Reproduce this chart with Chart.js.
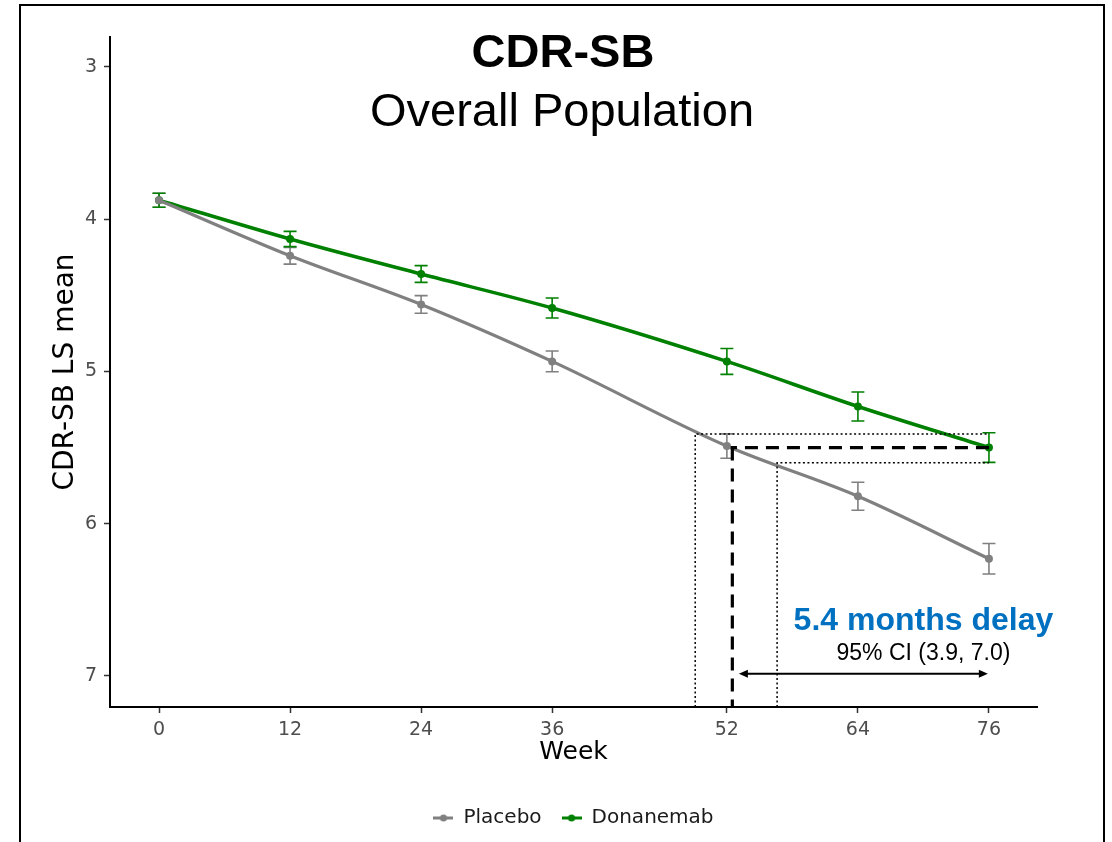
<!DOCTYPE html>
<html>
<head>
<meta charset="utf-8">
<title>CDR-SB Overall Population</title>
<script src="https://cdn.jsdelivr.net/npm/chart.js@4.4.1/dist/chart.umd.min.js"></script>
<style>
    html, body { margin: 0; padding: 0; background: #fff; }
    #wrap { position: relative; width: 1112px; height: 842px; overflow: hidden; }
    #chart { position: absolute; left: 0; top: 0; }
    /* slide frame around the figure */
    #frame { position: absolute; left: 19px; top: 4px; width: 1082px; height: 900px; border: 2px solid #000; pointer-events: none; }
</style>
</head>
<body>
<div id="wrap">
    <canvas id="chart" width="1112" height="842"></canvas>
    <div id="frame"></div>
</div>
<script>
// --- Data --- //
const weeks = [0, 12, 24, 36, 52, 64, 76];
const placeboMean = [3.875, 4.24, 4.56, 4.934, 5.49, 5.82, 6.23];
const placeboErr = [0.046, 0.055, 0.058, 0.068, 0.08, 0.092, 0.10];
const donanemabMean = [3.875, 4.13, 4.36, 4.583, 4.934, 5.23, 5.50];
const donanemabErr = [0.046, 0.05, 0.055, 0.066, 0.085, 0.095, 0.097];

const xTickValues = [0, 12, 24, 36, 52, 64, 76];
const yTickValues = [3, 4, 5, 6, 7];

// delay annotation (weeks / CDR-SB units)
const delayLevel = 5.50;          // donanemab mean at week 76
const delayBand = [5.41, 5.60];   // its error bar
const matchWeek = 52.5;           // placebo reaches the same level
const bandWeeks = [49.1, 56.6];   // placebo reaches the band edges
const arrowLevel = 6.985;
const arrowWeeks = [53.1, 75.9];
const delayText = '5.4 months delay';
const ciText = '95% CI (3.9, 7.0)';
const textAnchor = { x: 70, yMain: 6.64, yCi: 6.855 };

const titleText = 'CDR-SB';
const subtitleText = 'Overall Population';

const GREY = '#808080';
const GREEN = '#008000';
const TICK_FONT = { family: 'DejaVu Sans', size: 19 };

// small line+dot key for the legend
function legendKey(color) {
    const c = document.createElement('canvas');
    c.width = 20;
    c.height = 8;
    const g = c.getContext('2d');
    g.strokeStyle = color;
    g.lineWidth = 3;
    g.beginPath();
    g.moveTo(0, 4);
    g.lineTo(20, 4);
    g.stroke();
    g.fillStyle = color;
    g.beginPath();
    g.arc(10, 4, 3.5, 0, Math.PI * 2);
    g.fill();
    return c;
}

function toPoints(ys) {
    return weeks.map((w, i) => ({ x: w, y: ys[i] }));
}

// --- Error bars, delay annotation, titles --- //
const overlay = {
    id: 'overlay',
    beforeDatasetsDraw(chart) {
        const { ctx, scales: { x, y } } = chart;
        const sets = [[placeboMean, placeboErr, GREY], [donanemabMean, donanemabErr, GREEN]];
        ctx.save();
        ctx.lineWidth = 1.6;
        sets.forEach(([means, errs, color]) => {
            ctx.strokeStyle = color;
            means.forEach((m, i) => {
                const px = x.getPixelForValue(weeks[i]);
                const top = y.getPixelForValue(m - errs[i]);
                const bot = y.getPixelForValue(m + errs[i]);
                ctx.beginPath();
                ctx.moveTo(px, top); ctx.lineTo(px, bot);
                ctx.moveTo(px - 6.5, top); ctx.lineTo(px + 6.5, top);
                ctx.moveTo(px - 6.5, bot); ctx.lineTo(px + 6.5, bot);
                ctx.stroke();
            });
        });
        ctx.restore();
    },
    afterDatasetsDraw(chart) {
        const { ctx, scales: { x, y }, chartArea } = chart;
        const X = v => x.getPixelForValue(v);
        const Y = v => y.getPixelForValue(v);
        const end = X(weeks[weeks.length - 1]);
        ctx.save();

        // dotted band
        ctx.strokeStyle = '#000';
        ctx.lineWidth = 1.5;
        ctx.setLineDash([2, 2.5]);
        ctx.beginPath();
        ctx.moveTo(X(bandWeeks[0]), chartArea.bottom); ctx.lineTo(X(bandWeeks[0]), Y(delayBand[0])); ctx.lineTo(end, Y(delayBand[0]));
        ctx.moveTo(X(bandWeeks[1]), chartArea.bottom); ctx.lineTo(X(bandWeeks[1]), Y(delayBand[1])); ctx.lineTo(end, Y(delayBand[1]));
        ctx.stroke();

        // dashed level
        ctx.lineWidth = 3.2;
        ctx.setLineDash([13, 8]);
        ctx.beginPath();
        ctx.moveTo(end, Y(delayLevel)); ctx.lineTo(X(matchWeek) - 1.6, Y(delayLevel));
        ctx.moveTo(X(matchWeek), Y(delayLevel)); ctx.lineTo(X(matchWeek), chartArea.bottom);
        ctx.stroke();

        // double arrow
        ctx.setLineDash([]);
        ctx.lineWidth = 2;
        const ay = Y(arrowLevel), a0 = X(arrowWeeks[0]), a1 = X(arrowWeeks[1]);
        ctx.beginPath();
        ctx.moveTo(a0 + 4, ay); ctx.lineTo(a1 - 4, ay);
        ctx.stroke();
        ctx.fillStyle = '#000';
        ctx.beginPath();
        ctx.moveTo(a0, ay); ctx.lineTo(a0 + 9, ay - 4); ctx.lineTo(a0 + 9, ay + 4); ctx.closePath();
        ctx.moveTo(a1, ay); ctx.lineTo(a1 - 9, ay - 4); ctx.lineTo(a1 - 9, ay + 4); ctx.closePath();
        ctx.fill();

        // delay labels
        ctx.textAlign = 'center';
        ctx.textBaseline = 'middle';
        ctx.fillStyle = '#0070c0';
        ctx.font = 'bold 32px "Liberation Sans", Arial, sans-serif';
        ctx.fillText(delayText, X(textAnchor.x), Y(textAnchor.yMain));
        ctx.fillStyle = '#000';
        ctx.font = '23px "Liberation Sans", Arial, sans-serif';
        ctx.fillText(ciText, X(textAnchor.x), Y(textAnchor.yCi));
        ctx.restore();
    },
    afterDraw(chart) {
        const ctx = chart.ctx;
        ctx.save();
        ctx.fillStyle = '#000';
        ctx.textAlign = 'center';
        ctx.textBaseline = 'alphabetic';
        ctx.font = 'bold 47px "Liberation Sans", Arial, sans-serif';
        ctx.fillText(titleText, 563, 67);
        ctx.font = '47px "Liberation Sans", Arial, sans-serif';
        ctx.fillText(subtitleText, 562, 126);
        ctx.restore();
    }
};

new Chart(document.getElementById('chart').getContext('2d'), {
    type: 'line',
    data: {
        datasets: [{
            label: 'Placebo',
            data: toPoints(placeboMean),
            borderColor: GREY,
            backgroundColor: GREY,
            borderWidth: 3.2,
            pointRadius: 4,
            pointBorderWidth: 0,
            cubicInterpolationMode: 'monotone'
        }, {
            label: 'Donanemab',
            data: toPoints(donanemabMean),
            borderColor: GREEN,
            backgroundColor: GREEN,
            borderWidth: 3.5,
            pointRadius: 4,
            pointBorderWidth: 0,
            cubicInterpolationMode: 'monotone'
        }]
    },
    options: {
        responsive: false,
        animation: false,
        layout: { padding: { left: 45, right: 75, top: 37, bottom: 4 } },
        scales: {
            x: {
                type: 'linear',
                min: -4.49,
                max: 80.4,
                afterBuildTicks: axis => { axis.ticks = xTickValues.map(v => ({ value: v })); },
                afterFit: axis => { axis.height = 81; },
                ticks: { color: '#4d4d4d', font: TICK_FONT, padding: 6, maxRotation: 0 },
                grid: { drawOnChartArea: false, tickLength: 6, tickColor: '#333', tickWidth: 1.5 },
                border: { color: '#000', width: 2 },
                title: { display: true, text: 'Week', color: '#000', font: { family: 'DejaVu Sans', size: 25 }, padding: { top: 0, bottom: 21 } }
            },
            y: {
                reverse: true,
                min: 2.803,
                max: 7.204,
                afterBuildTicks: axis => { axis.ticks = yTickValues.map(v => ({ value: v })); },
                afterFit: axis => { axis.width = 65; },
                ticks: { color: '#4d4d4d', font: TICK_FONT, padding: 7 },
                grid: { drawOnChartArea: false, tickLength: 6, tickColor: '#333', tickWidth: 1.5 },
                border: { color: '#000', width: 2 },
                title: { display: true, text: 'CDR-SB LS mean', color: '#000', font: { family: 'DejaVu Sans', size: 28 } }
            }
        },
        plugins: {
            legend: {
                position: 'bottom',
                fullSize: false,
                labels: {
                    usePointStyle: true,
                    pointStyleWidth: 20,
                    color: '#1a1a1a',
                    font: { family: 'DejaVu Sans', size: 20 },
                    padding: 20,
                    generateLabels(chart) {
                        const items = Chart.defaults.plugins.legend.labels.generateLabels(chart);
                        items.forEach((it, i) => { it.pointStyle = legendKey(chart.data.datasets[i].borderColor); });
                        return items;
                    }
                }
            },
            tooltip: { enabled: false }
        }
    },
    plugins: [overlay]
});
</script>
</body>
</html>
